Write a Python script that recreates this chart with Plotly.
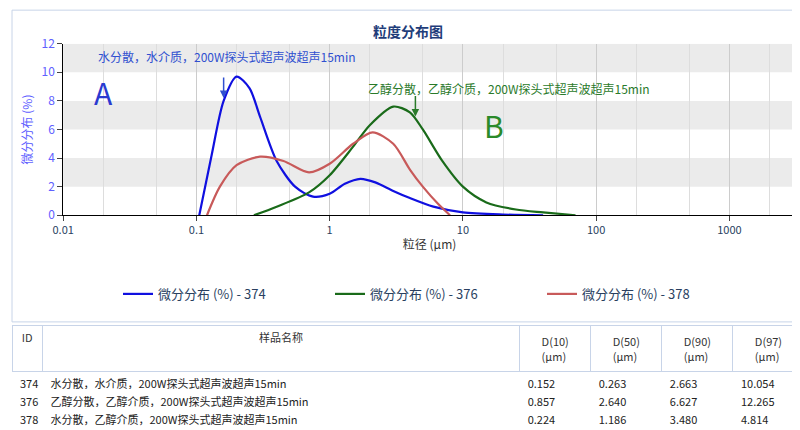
import math
import plotly.graph_objects as go

# Data
x374 = [0.105, 0.13, 0.16, 0.2, 0.25, 0.3, 0.4, 0.55, 0.75, 1.0, 1.3, 1.7, 2.2, 3, 4, 6, 10, 20, 40]
y374 = [0, 4.2, 8.0, 9.7, 8.9, 6.9, 3.8, 2.0, 1.3, 1.5, 2.2, 2.55, 2.3, 1.7, 1.2, 0.6, 0.2, 0.05, 0]
x376 = [0.27, 0.4, 0.7, 1.0, 1.5, 2, 3, 4, 5, 7, 10, 15, 25, 40, 70]
y376 = [0, 0.6, 1.6, 2.8, 4.8, 6.3, 7.6, 7.2, 6.0, 3.8, 2.0, 0.9, 0.4, 0.2, 0]
x378 = [0.12, 0.15, 0.2, 0.3, 0.45, 0.7, 1.0, 1.5, 2.1, 3, 4, 5, 6.5, 8]
y378 = [0, 2.0, 3.5, 4.1, 3.8, 3.0, 3.6, 5.0, 5.8, 5.0, 3.2, 2.0, 0.8, 0]

ids = ["374", "376", "378"]
names = ["水分散，水介质，200W探头式超声波超声15min",
         "乙醇分散，乙醇介质，200W探头式超声波超声15min",
         "水分散，乙醇介质，200W探头式超声波超声15min"]
d10 = ["0.152", "0.857", "0.224"]
d50 = ["0.263", "2.640", "1.186"]
d90 = ["2.663", "6.627", "3.480"]
d97 = ["10.054", "12.265", "4.814"]

fig = go.Figure()
for xs, ys, sid, col in [(x374, y374, "374", "#1010e0"), (x376, y376, "376", "#1a6b1a"), (x378, y378, "378", "#c85a5a")]:
    fig.add_trace(go.Scatter(x=xs, y=ys, mode="lines", line=dict(color=col, width=2.2, shape="spline", smoothing=0.8),
                             name="微分分布 (%) - " + sid))

fig.add_trace(go.Table(
    domain=dict(x=[0.005, 0.995], y=[0.0, 0.262]),
    columnwidth=[30, 470, 70, 70, 70, 70],
    header=dict(values=["ID", "样品名称", "D(10)<br>(μm)", "D(50)<br>(μm)", "D(90)<br>(μm)", "D(97)<br>(μm)"],
                fill_color="white", line_color="#c8d4e8", align="center",
                font=dict(family="Noto Sans CJK SC", size=11, color="#333"), height=38),
    cells=dict(values=[ids, names, d10, d50, d90, d97], fill_color="white", line_color="white",
               align="left", font=dict(family="Noto Sans CJK SC", size=11, color="#222"), height=18),
))

shapes = [dict(type="rect", xref="paper", yref="paper", x0=0.005, x1=0.995, y0=0.27, y1=0.995,
               line=dict(color="#c8d4e8", width=1))]
for lo in [2, 6, 10]:
    shapes.append(dict(type="rect", xref="x domain", yref="y", x0=0, x1=1, y0=lo, y1=lo + 2,
                       fillcolor="#ebebeb", line_width=0, layer="below"))

lg = math.log10
ann = [
    dict(text="<b>粒度分布图</b>", x=0.5, y=0.975, xref="paper", yref="paper", showarrow=False,
         font=dict(color="#1f3d7a", size=14)),
    dict(x=lg(0.16), y=8.2, ax=0, ay=-22, text="", arrowhead=2, arrowwidth=1.5,
         arrowcolor="#3050d0", xref="x", yref="y"),
    dict(x=lg(0.17), y=11.1, text="水分散，水介质，200W探头式超声波超声15min", showarrow=False,
         font=dict(color="#3050d0", size=12), xref="x", yref="y"),
    dict(x=lg(4.4), y=6.9, ax=0, ay=-22, text="", arrowhead=2, arrowwidth=1.5,
         arrowcolor="#2a7a2a", xref="x", yref="y"),
    dict(x=lg(22), y=8.9, text="乙醇分散，乙醇介质，200W探头式超声波超声15min", showarrow=False,
         font=dict(color="#2a7a2a", size=12), xref="x", yref="y"),
    dict(x=lg(0.02), y=8.6, text="A", showarrow=False, font=dict(color="#2a3ad0", size=30), xref="x", yref="y"),
    dict(x=lg(17), y=6.3, text="B", showarrow=False, font=dict(color="#2a8a2a", size=30), xref="x", yref="y"),
]

fig.update_layout(
    width=800, height=430, margin=dict(l=0, r=0, t=0, b=0),
    paper_bgcolor="white", plot_bgcolor="white",
    font=dict(family="Noto Sans CJK SC", size=11),
    xaxis=dict(type="log", range=[-2, 3.5], domain=[0.069, 0.985], anchor="y", automargin=False,
               tickvals=[0.01, 0.1, 1, 10, 100, 1000], ticktext=["0.01", "0.1", "1", "10", "100", "1000"],
               showgrid=True, gridcolor="#cccccc", minor=dict(showgrid=True, gridcolor="#dddddd", ticks=""),
               showline=True, linecolor="black", ticks="outside",
               title=dict(text="粒径 (μm)", standoff=4, font=dict(size=12, color="#333"))),
    yaxis=dict(range=[0, 12], domain=[0.518, 0.917], dtick=2, showgrid=False, showline=True, linecolor="black",
               ticks="outside", tickfont=dict(color="#6060ff", size=12), automargin=False,
               title=dict(text="微分分布 (%)", font=dict(color="#6060ff", size=12), standoff=6)),
    legend=dict(orientation="h", x=0.535, xanchor="center", y=0.335, yanchor="middle",
                font=dict(size=13), entrywidth=0.265, entrywidthmode="fraction"),
    shapes=shapes, annotations=ann,
)

fig.write_html("out.html")
